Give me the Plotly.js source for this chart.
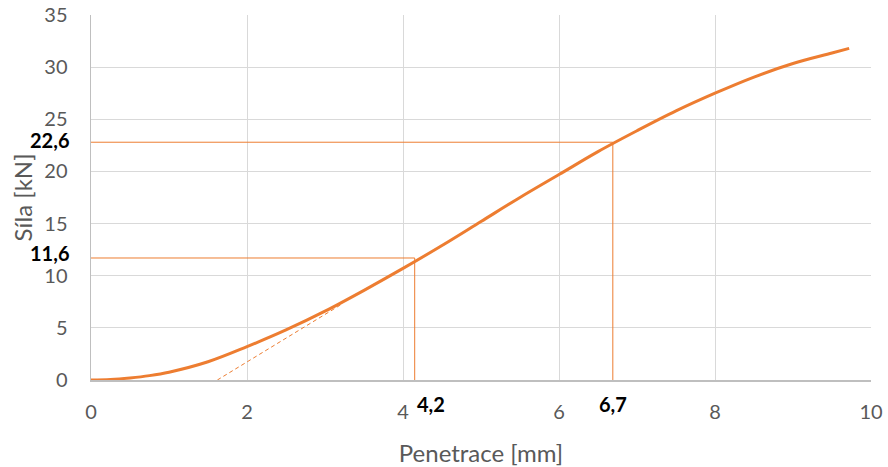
<!DOCTYPE html>
<html>
<head>
<meta charset="utf-8">
<script src="https://cdn.plot.ly/plotly-3.0.1.min.js"></script>
<style>html,body{margin:0;padding:0;background:#fff;}#chart{width:888px;height:467px;}</style>
</head>
<body>
<div id="chart"></div>
<script>
// Force–penetration curve
const penetrace = [0, 0.25, 0.5, 0.75, 1.0, 1.5, 2.0, 2.5, 3.0, 3.5, 4.0, 4.5, 5.0, 5.5, 6.0, 6.5, 7.0, 7.5, 8.0, 8.5, 9.0, 9.5, 9.72];
const sila      = [0, 0.05, 0.2, 0.42, 0.75, 1.75, 3.2, 4.8, 6.6, 8.6, 10.7, 12.9, 15.2, 17.5, 19.7, 21.9, 23.9, 25.8, 27.5, 29.05, 30.35, 31.35, 31.8];

// Tangent (dashed) line
const tangentX = [1.62, 3.2];
const tangentY = [0, 7.2];

// Reference readings
const readX = [4.15, 6.69];
const readY = [11.7, 22.8];
const readXLabels = ["4,2", "6,7"];
const readYLabels = ["11,6", "22,6"];

// Axis ticks
const xTicks = [0, 2, 4, 6, 8, 10];
const yTicks = [0, 5, 10, 15, 20, 25, 30, 35];

const orange = '#ED7D31';
const font = 'Lato, "Open Sans", sans-serif';

const traces = [];
readX.forEach((rx, i) => {
  traces.push({
    x: [0, rx, rx], y: [readY[i], readY[i], 0],
    mode: 'lines', line: {color: orange, width: 1}, hoverinfo: 'skip', showlegend: false
  });
});
traces.push({
  x: tangentX, y: tangentY, mode: 'lines',
  line: {color: orange, width: 1, dash: '4px,3px'}, showlegend: false
});
traces.push({
  x: penetrace, y: sila, mode: 'lines',
  line: {color: orange, width: 3, shape: 'spline', smoothing: 1}, showlegend: false
});

const annotations = [];
readY.forEach((ry, i) => {
  annotations.push({
    xref: 'paper', yref: 'y', x: 0, y: ry, xshift: -20, yshift: i === 0 ? 5 : 2,
    xanchor: 'right', yanchor: 'middle', showarrow: false,
    text: '<b>' + readYLabels[i] + '</b>', font: {family: font, size: 20, color: '#000'}
  });
});
readX.forEach((rx, i) => {
  annotations.push({
    xref: 'x', yref: 'paper', x: rx, y: 0, yshift: -24,
    xanchor: i === 0 ? 'left' : 'center', yanchor: 'middle', showarrow: false,
    text: '<b>' + readXLabels[i] + '</b>', font: {family: font, size: 20, color: '#000'}
  });
});
// y-axis title
annotations.push({
  xref: 'paper', yref: 'paper', x: 0, y: 0.5, xshift: -69,
  xanchor: 'center', yanchor: 'middle', showarrow: false, textangle: -90,
  text: 'Síla [kN]', font: {family: font, size: 24, color: '#595959'}
});

const layout = {
  width: 888, height: 467,
  margin: {l: 91, r: 17, t: 15, b: 87},
  paper_bgcolor: '#fff', plot_bgcolor: '#fff',
  font: {family: font, color: '#595959'},
  xaxis: {
    range: [0, 10], tickvals: xTicks, ticktext: xTicks.map(String),
    showgrid: true, gridcolor: '#d9d9d9', gridwidth: 1,
    showline: true, linecolor: '#bfbfbf', linewidth: 1.5,
    zeroline: false, ticks: '', tickfont: {size: 20, color: '#595959'},
    ticklabelstandoff: 13,
    title: {text: 'Penetrace [mm]', font: {size: 24, color: '#595959'}, standoff: 23}
  },
  yaxis: {
    range: [0, 35], tickvals: yTicks, ticktext: yTicks.map(String),
    showgrid: true, gridcolor: '#d9d9d9', gridwidth: 1,
    showline: true, linecolor: '#bfbfbf', linewidth: 1.5,
    zeroline: false, ticks: '', tickfont: {size: 20, color: '#595959'},
    ticklabelstandoff: 18
  },
  annotations: annotations
};

Plotly.newPlot('chart', traces, layout, {displayModeBar: false, staticPlot: true});
</script>
</body>
</html>
